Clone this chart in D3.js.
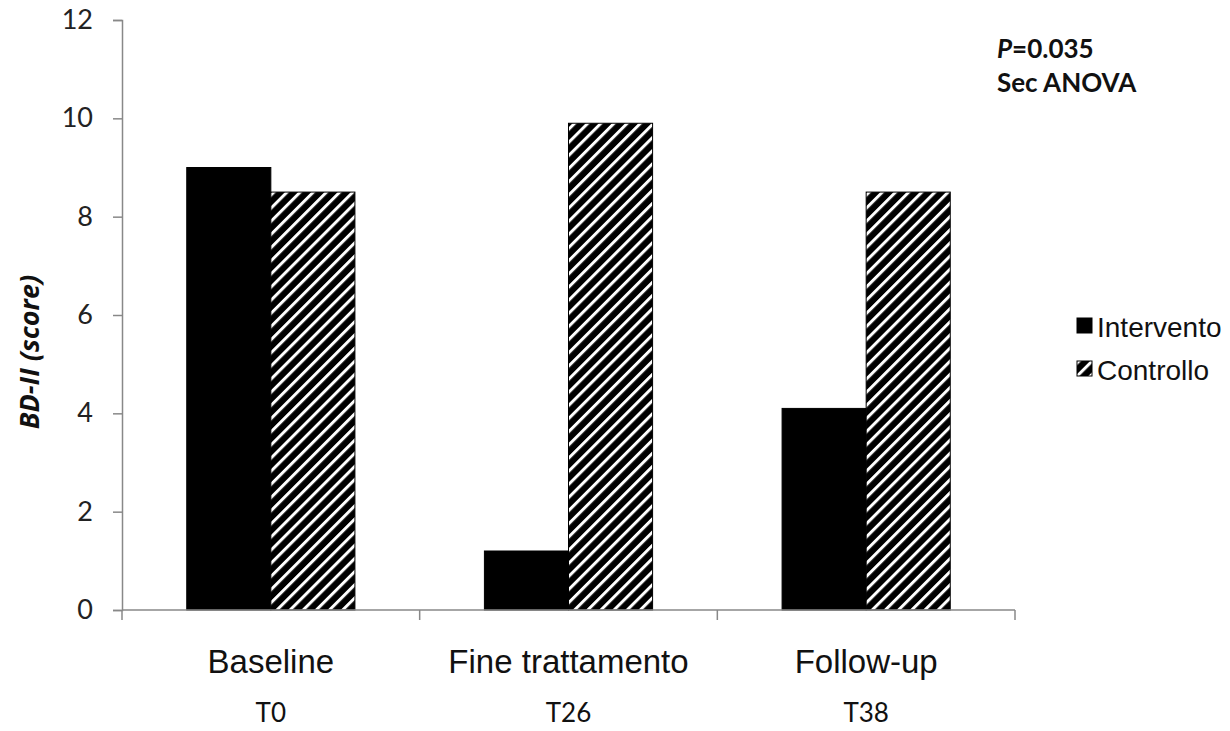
<!DOCTYPE html>
<html>
<head>
<meta charset="utf-8">
<script src="https://cdn.jsdelivr.net/npm/d3@7"></script>
<style>
  body { margin: 0; background: #fff; }
  svg { display: block; }
</style>
</head>
<body>
<div id="chart"></div>
<script>
const categories = ["Baseline", "Fine trattamento", "Follow-up"];
const timepoints = ["T0", "T26", "T38"];
const series = ["Intervento", "Controllo"];
const intervento = [9.0, 1.2, 4.1];
const controllo = [8.5, 9.9, 8.5];
const yTicks = [0, 2, 4, 6, 8, 10, 12];

function draw() {
    const width = 1230;
    const height = 731;
    const left = 122, right = 1015, top = 20, bottom = 610;

    const svg = d3.select("#chart").append("svg")
        .attr("width", width)
        .attr("height", height);

    // diagonal hatch for Controllo
    const defs = svg.append("defs");
    const pat = defs.append("pattern")
        .attr("id", "hatch")
        .attr("patternUnits", "userSpaceOnUse")
        .attr("width", 9.3)
        .attr("height", 9.3)
        .attr("patternTransform", "rotate(45)");
    pat.append("rect")
        .attr("width", 9.3).attr("height", 9.3)
        .attr("fill", "#000");
    pat.append("rect")
        .attr("x", 0).attr("width", 3).attr("height", 9.3)
        .attr("fill", "#fff");

    const x0 = d3.scaleBand()
        .domain(categories)
        .range([left, right])
        .padding(0);

    const x1 = d3.scaleBand()
        .domain(series)
        .range([0, x0.bandwidth()])
        .paddingInner(0)
        .paddingOuter(0.77);

    const y = d3.scaleLinear()
        .domain([0, 12])
        .range([bottom, top]);

    const rows = categories.map((c, i) => ({
        cat: c,
        values: [
            { key: "Intervento", value: intervento[i] },
            { key: "Controllo", value: controllo[i] }
        ]
    }));

    const groups = svg.append("g").selectAll("g")
        .data(rows)
        .enter().append("g")
        .attr("transform", d => `translate(${x0(d.cat)},0)`);

    groups.selectAll("rect")
        .data(d => d.values)
        .enter().append("rect")
        .attr("x", d => x1(d.key))
        .attr("y", d => y(d.value))
        .attr("width", x1.bandwidth())
        .attr("height", d => bottom - y(d.value))
        .attr("fill", d => d.key == "Intervento" ? "#000" : "url(#hatch)")
        .attr("stroke", "#000")
        .attr("stroke-width", 1);

    // y axis
    const yAxis = svg.append("g")
        .attr("transform", `translate(${left},0)`)
        .call(d3.axisLeft(y).tickValues(yTicks).tickSize(9).tickPadding(20));
    yAxis.select(".domain").attr("stroke", "#888").attr("stroke-width", 1.5);
    yAxis.selectAll(".tick line").attr("stroke", "#888").attr("stroke-width", 1.5);
    yAxis.selectAll(".tick text")
        .attr("font-family", "Lato, 'Open Sans', sans-serif")
        .attr("font-size", 27)
        .attr("fill", "#222");

    // x axis (ticks at category boundaries)
    const xAxisG = svg.append("g");
    xAxisG.append("line")
        .attr("x1", left).attr("x2", right)
        .attr("y1", bottom).attr("y2", bottom)
        .attr("stroke", "#888").attr("stroke-width", 1.5);
    const bounds = categories.map(c => x0(c)).concat([x0(categories[categories.length - 1]) + x0.bandwidth()]);
    xAxisG.selectAll("line.tk")
        .data(bounds)
        .enter().append("line")
        .attr("class", "tk")
        .attr("x1", d => d).attr("x2", d => d)
        .attr("y1", bottom).attr("y2", bottom + 10)
        .attr("stroke", "#888").attr("stroke-width", 1.5);

    xAxisG.selectAll("text.cat")
        .data(categories)
        .enter().append("text")
        .attr("class", "cat")
        .attr("x", d => x0(d) + x0.bandwidth() / 2)
        .attr("y", 673)
        .attr("text-anchor", "middle")
        .attr("font-family", "'Liberation Sans', Arial, sans-serif")
        .attr("font-size", 33)
        .attr("fill", "#111")
        .text(d => d);

    xAxisG.selectAll("text.tp")
        .data(timepoints)
        .enter().append("text")
        .attr("class", "tp")
        .attr("x", (d, i) => x0(categories[i]) + x0.bandwidth() / 2)
        .attr("y", 722)
        .attr("text-anchor", "middle")
        .attr("font-family", "Lato, 'Open Sans', sans-serif")
        .attr("font-size", 26)
        .attr("fill", "#111")
        .text(d => d);

    // y title
    svg.append("text")
        .attr("transform", "translate(39,352) rotate(-90)")
        .attr("text-anchor", "middle")
        .attr("font-family", "'Open Sans', sans-serif")
        .attr("font-weight", "bold")
        .attr("font-style", "italic")
        .attr("font-size", 27)
        .attr("fill", "#111")
        .text("BD-II (score)");

    // annotation
    const ann = svg.append("text")
        .attr("x", 997)
        .attr("y", 58)
        .attr("font-family", "Lato, 'Open Sans', sans-serif")
        .attr("font-weight", "bold")
        .attr("font-size", 26)
        .attr("fill", "#111");
    ann.append("tspan").attr("font-style", "italic").text("P");
    ann.append("tspan").text("=0.035");
    svg.append("text")
        .attr("x", 997)
        .attr("y", 92)
        .attr("font-family", "Lato, 'Open Sans', sans-serif")
        .attr("font-weight", "bold")
        .attr("font-size", 26)
        .attr("fill", "#111")
        .text("Sec ANOVA");

    // legend
    const legend = svg.append("g")
        .attr("transform", "translate(1077,318)");
    const items = legend.selectAll("g")
        .data(series)
        .enter().append("g")
        .attr("transform", (d, i) => `translate(0,${i * 43})`);
    items.append("rect")
        .attr("width", 15).attr("height", 15)
        .attr("fill", d => d == "Intervento" ? "#000" : "url(#hatch)")
        .attr("stroke", "#000");
    items.append("text")
        .attr("x", 20)
        .attr("y", 19)
        .attr("font-family", "'Liberation Sans', Arial, sans-serif")
        .attr("font-size", 28)
        .attr("fill", "#111")
        .text(d => d);
}
draw();
</script>
</body>
</html>
